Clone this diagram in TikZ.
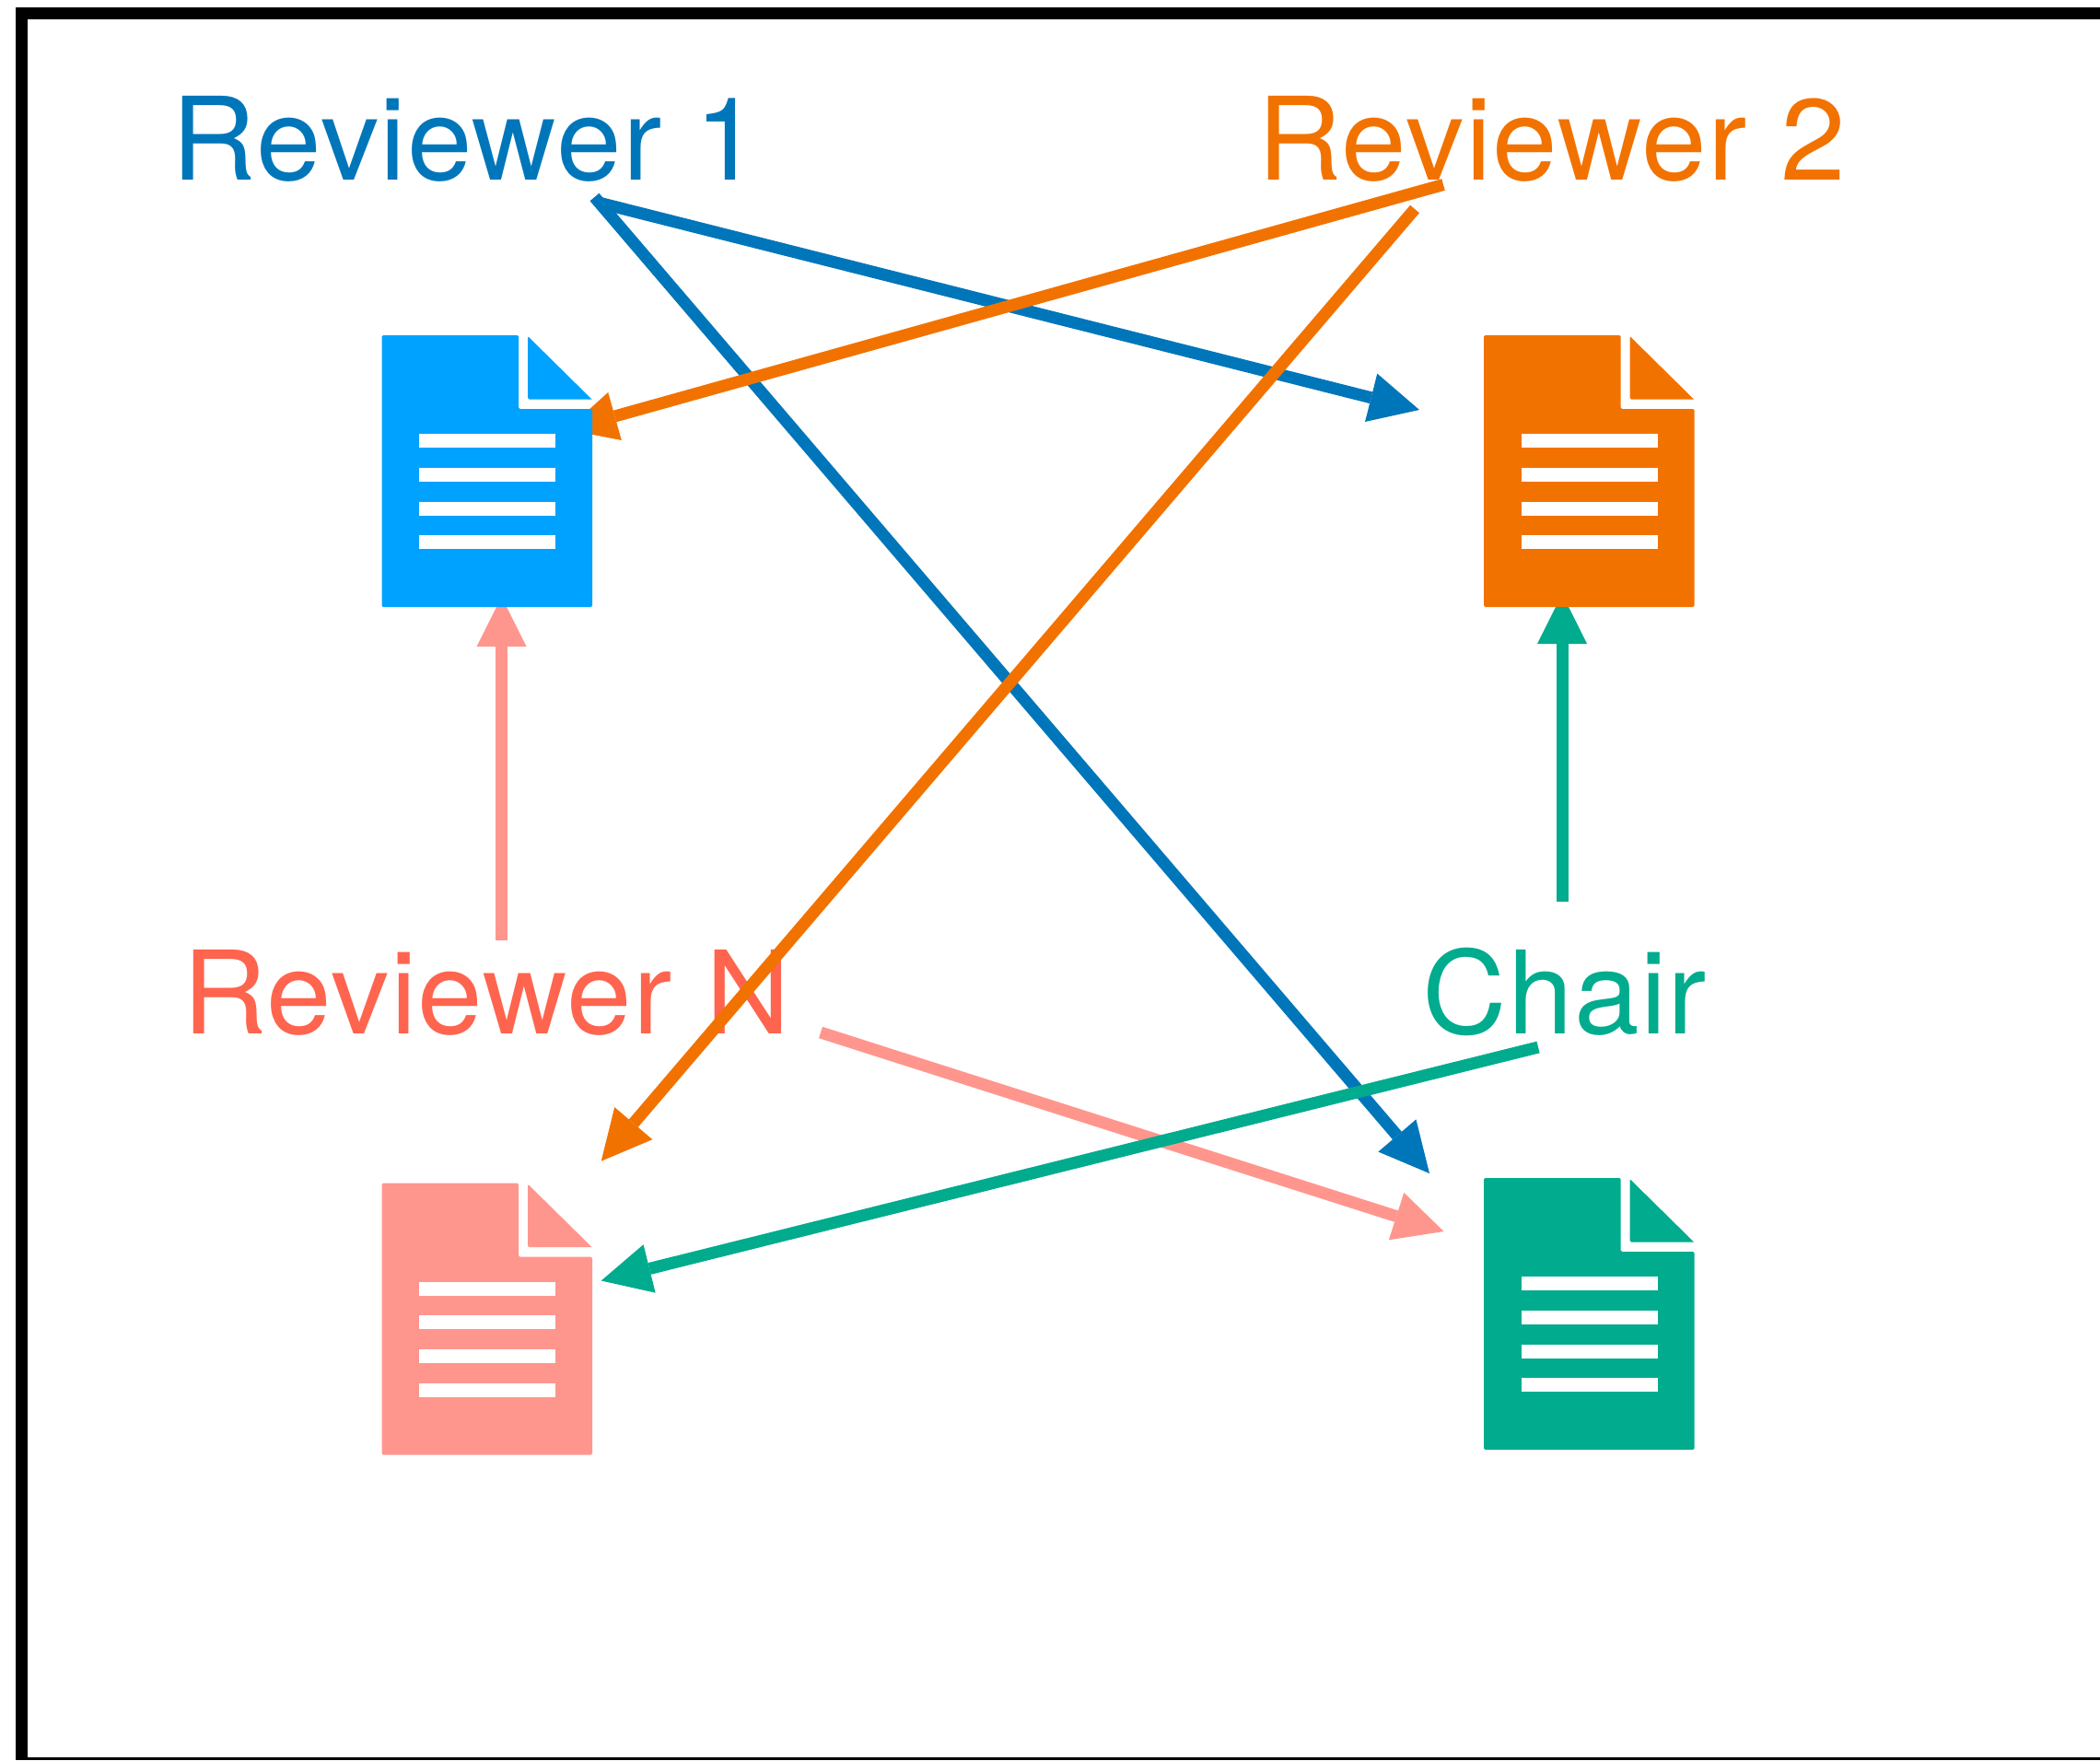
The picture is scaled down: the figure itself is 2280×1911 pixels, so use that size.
\documentclass[tikz,border=0pt]{standalone}
\usepackage{fontspec}
\setmainfont[FakeStretch=1.015,LetterSpace=1.0]{TeX Gyre Heros}
\usetikzlibrary{arrows.meta}
\definecolor{revblue}{HTML}{0076BA}
\definecolor{docblue}{HTML}{00A2FF}
\definecolor{revorange}{HTML}{F27200}
\definecolor{revgreen}{HTML}{00AB8E}
\definecolor{revpink}{HTML}{FF968D}
\definecolor{revred}{HTML}{FF644E}
\tikzset{
  lab/.style={anchor=base west,inner sep=0pt,font=\fontsize{125}{125}\selectfont},
  flow/.style={line width=13pt,-{Triangle[length=54pt,width=54pt,line width=0pt]}},
  docpart/.style={rounded corners=1.5pt},
  docline/.style={fill=white},
}
\newcommand{\docicon}[3]{%
  \begin{scope}[shift={(#1,#2)}]
    \fill[#3,docpart] (0,0) -- (148.5,0) -- (148.5,80) -- (228.5,80) -- (228.5,295) -- (0,295) -- cycle;
    \fill[#3] (158.5,1) -- (228,69.5) -- (160,69.5) [rounded corners=1.5pt] -- (158.5,69.5) -- cycle;
    \fill[docline] (40.5,107) rectangle (188.5,122);
    \fill[docline] (40.5,143.5) rectangle (188.5,158.5);
    \fill[docline] (40.5,180.5) rectangle (188.5,195.5);
    \fill[docline] (40.5,217) rectangle (188.5,232);
  \end{scope}%
}
\begin{document}
\begin{tikzpicture}[x=1pt,y=-1pt]
\useasboundingbox (0,0) rectangle (2280,1911);
% frame
\fill[black] (17,8) rectangle (2280,21);
\fill[black] (17,8) rectangle (30,1910);
\fill[black] (17,1908) rectangle (2280,1911);
% labels
\node[lab,text=revblue] (r1) at (186.5,195) {Reviewer 1};
\node[lab,text=revorange] (r2) at (1365,195) {Reviewer 2};
\node[lab,text=revred] (rn) at (198,1122) {Reviewer N};
\node[lab,text=revgreen] (chair) at (1544.5,1122) {Chair};
% connector ends
\coordinate (r1a) at (650,220);
\coordinate (r1b) at (645.5,214);
\coordinate (r2a) at (1567,200.5);
\coordinate (r2b) at (1536,227);
\coordinate (rna) at (544.5,1021);
\coordinate (rnb) at (891,1121);
\coordinate (cha) at (1696,979);
\coordinate (chb) at (1670,1137);
\coordinate (docbI) at (615.5,466.5);
\coordinate (docbN) at (544.5,648);
\coordinate (docoI) at (1541,445);
\coordinate (docoC) at (1696,645);
\coordinate (docpII) at (652.7,1260.7);
\coordinate (docpC) at (652.7,1390.5);
\coordinate (docgI) at (1552,1274);
\coordinate (docgN) at (1567.5,1337);
% connectors
\draw[flow,revblue] (r1a) -- (docoI);
\draw[flow,revblue] (r1b) -- (docgI);
\draw[flow,revpink] (rnb) -- (docgN);
\draw[flow,revpink] (rna) -- (docbN);
\draw[flow,revgreen] (chb) -- (docpC);
\draw[flow,revgreen] (cha) -- (docoC);
\draw[flow,revorange] (r2a) -- (docbI);
\draw[flow,revorange] (r2b) -- (docpII);
% documents
\docicon{414.5}{364}{docblue}
\docicon{1611}{364}{revorange}
\docicon{414.5}{1284.5}{revpink}
\docicon{1611}{1279}{revgreen}
\end{tikzpicture}
\end{document}
